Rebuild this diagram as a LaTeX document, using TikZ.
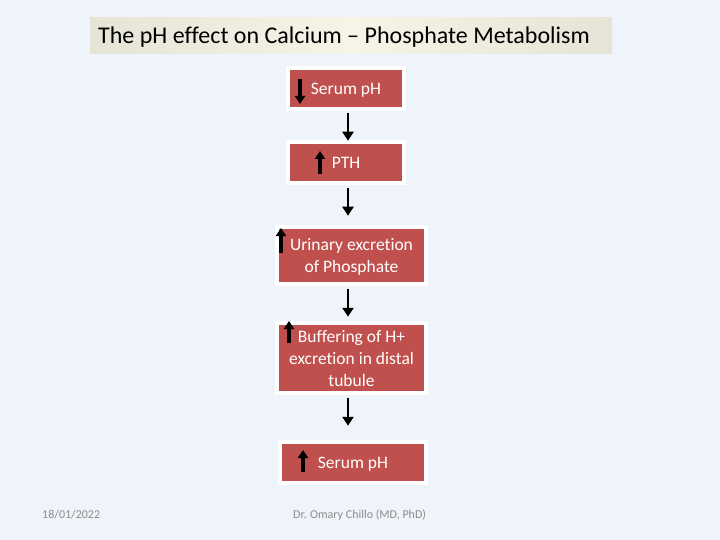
\documentclass[tikz,border=0pt]{standalone}
\usepackage{fontspec}
\setmainfont{Carlito}[Ligatures=NoCommon]
\usetikzlibrary{arrows.meta,calc}
\definecolor{bg}{HTML}{EFF3FA}
\definecolor{boxred}{HTML}{C0504D}
\definecolor{titlea}{HTML}{E6E4D6}
\definecolor{titleb}{HTML}{F6F4E6}
\definecolor{foot}{HTML}{8C8C8C}
\tikzset{
  redbox/.style={draw=white, line width=3.5pt, fill=boxred, text=white, align=center,
    font=\fontsize{17.5}{22}\selectfont, inner sep=0pt, text depth=0pt},
  conn/.style={draw=black, line width=2.8pt, -{Triangle[width=11pt,length=9pt]}},
  mark arrow/.style={draw=black, line width=3.4pt, -{Triangle[width=10pt,length=8pt]}},
  footer/.style={text=foot, font=\fontsize{12}{14}\selectfont, anchor=west, inner sep=0pt}
}
\begin{document}
\begin{tikzpicture}[x=1pt,y=-1pt]
\useasboundingbox (0,0) rectangle (720,540);
\fill[bg] (0,0) rectangle (720,540);
% title
\shade[left color=titlea, right color=titlea, middle color=titleb] (90,18) rectangle (612,54);
\node[anchor=base west, inner sep=0pt, font=\fontsize{24}{28}\selectfont] (title) at (98,44) {The pH effect on Calcium -- Phosphate Metabolism};
% boxes
\node[redbox, minimum width=116pt, minimum height=41pt] (b1) at (346,88.5) {Serum pH};
\node[redbox, minimum width=116pt, minimum height=41pt] (b2) at (346,162.5) {PTH};
\node[redbox, minimum width=149pt, minimum height=57pt] (b3) at (351.5,255.5) {Urinary excretion\\of Phosphate};
\node[redbox, minimum width=149pt, minimum height=70pt] (b4) at (351.5,358) {Buffering of H+\\excretion in distal\\tubule};
\node[redbox, minimum width=146pt, minimum height=41pt] (b5) at (353,462.5) {Serum pH};
% internal markers
\draw[mark arrow] (300,79) -- (300,104);
\draw[mark arrow] (320,174) -- (320,151);
\draw[mark arrow] (281,253) -- (281,228);
\draw[mark arrow] (289,343) -- (289,321);
\draw[mark arrow] (303,472) -- (303,450);
% connectors
\coordinate (ax) at (348,0);
\draw[conn] ([yshift=-2pt]b1.south -| ax) -- ++(0,28);
\draw[conn] ([yshift=-3pt]b2.south -| ax) -- ++(0,28);
\draw[conn] ([yshift=-3pt]b3.south -| ax) -- ++(0,28);
\draw[conn] ([yshift=-3pt]b4.south -| ax) -- ++(0,28);
% footer
\node[footer] (date) at (42,515) {18/01/2022};
\node[footer] (author) at (293,515) {Dr. Omary Chillo (MD, PhD)};
\end{tikzpicture}
\end{document}
